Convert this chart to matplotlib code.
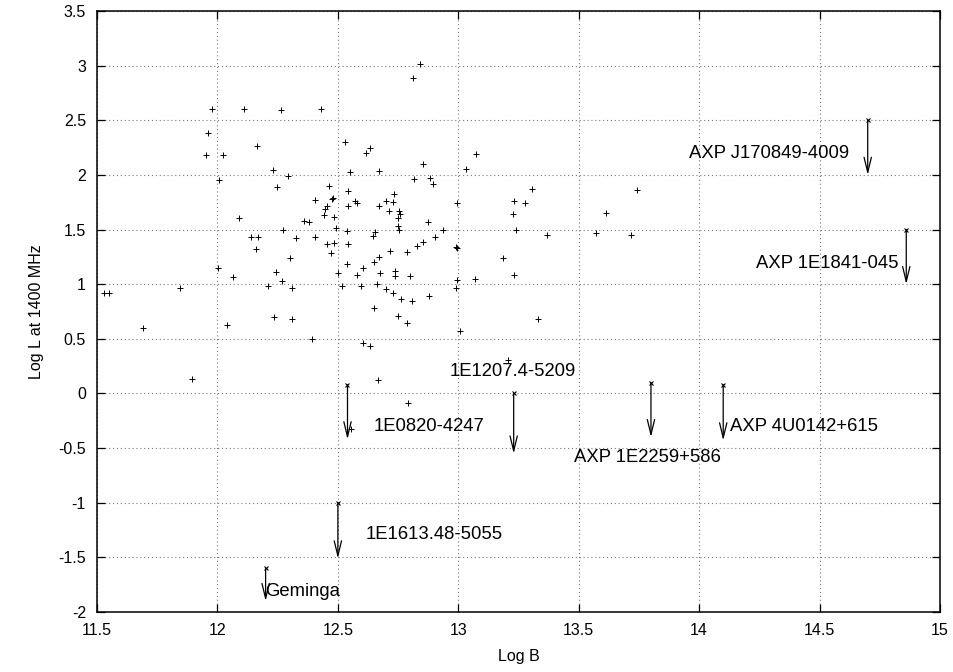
import numpy as np
import matplotlib
matplotlib.use("Agg")
import matplotlib.pyplot as plt

# radio-detected pulsars: log B [G], log L at 1400 MHz
log_b = [
    11.528, 11.551, 11.690, 11.843, 11.894,
    11.979, 11.960, 11.953, 12.021, 12.006, 12.004, 12.039, 12.063, 12.090, 12.110,
    12.138, 12.168, 12.161, 12.163, 12.229, 12.248, 12.295, 12.262, 12.211, 12.236,
    12.244, 12.268, 12.273, 12.300, 12.310, 12.310, 12.325,
    12.361, 12.382, 12.405, 12.405, 12.391, 12.430, 12.464, 12.474, 12.478, 12.456,
    12.446, 12.442, 12.485, 12.493, 12.455, 12.485, 12.472, 12.500, 12.516,
    12.528, 12.550, 12.543, 12.541, 12.537, 12.541, 12.539, 12.572, 12.579, 12.581,
    12.605, 12.594, 12.605, 12.632, 12.616, 12.632, 12.672, 12.672, 12.700, 12.713,
    12.656, 12.647, 12.650, 12.669, 12.676, 12.663, 12.700, 12.650, 12.668, 12.553,
    12.729, 12.734, 12.752, 12.760, 12.751, 12.748, 12.752, 12.715, 12.785, 12.736,
    12.736, 12.800, 12.729, 12.762, 12.808, 12.878, 12.748, 12.786, 12.792,
    12.810, 12.841, 12.853, 12.817, 12.883, 12.897, 12.876, 12.938, 12.905, 12.853,
    12.829,
    12.996, 12.990, 12.996, 12.994, 12.992, 13.008, 13.034, 13.072, 13.068,
    13.187, 13.232, 13.205, 13.231, 13.278, 13.229, 13.238, 13.305, 13.367, 13.329,
    13.572, 13.612, 13.719, 13.741,
]
log_l = [
    0.922, 0.922, 0.598, 0.968, 0.133,
    2.600, 2.384, 2.179, 2.180, 1.951, 1.150, 0.626, 1.062, 1.606, 2.600,
    1.428, 1.428, 1.323, 2.266, 2.045, 1.885, 1.990, 2.590, 0.985, 0.703,
    1.111, 1.033, 1.492, 1.244, 0.967, 0.683, 1.426,
    1.582, 1.566, 1.775, 1.430, 0.494, 2.600, 1.903, 1.780, 1.788, 1.716,
    1.691, 1.637, 1.614, 1.514, 1.368, 1.377, 1.288, 1.106, 0.982,
    2.300, 2.025, 1.850, 1.716, 1.483, 1.368, 1.181, 1.765, 1.746, 1.080,
    1.152, 0.987, 0.465, 0.432, 2.205, 2.250, 2.034, 1.716, 1.761, 1.670,
    1.477, 1.437, 1.207, 1.246, 1.106, 1.003, 0.955, 0.780, 0.123, -0.327,
    1.749, 1.826, 1.670, 1.645, 1.602, 1.535, 1.492, 1.305, 1.293, 1.120,
    1.073, 1.075, 0.920, 0.868, 0.846, 0.893, 0.707, 0.645, -0.089,
    2.890, 3.015, 2.104, 1.960, 1.972, 1.914, 1.566, 1.492, 1.429, 1.388,
    1.347,
    1.746, 1.342, 1.332, 1.040, 0.966, 0.568, 2.050, 2.190, 1.050,
    1.244, 1.088, 0.303, 1.758, 1.746, 1.641, 1.499, 1.871, 1.453, 0.683,
    1.471, 1.648, 1.453, 1.859,
]

# radio-quiet objects (upper limits)
lim_names = ["Geminga", "1E1613.48-5055", "1E0820-4247", "1E1207.4-5209",
             "AXP 1E2259+586", "AXP 4U0142+615", "AXP J170849-4009", "AXP 1E1841-045"]
lim_b = [12.20, 12.50, 12.54, 13.23, 13.80, 14.10, 14.70, 14.86]
lim_l = [-1.60, -1.00, 0.08, 0.00, 0.10, 0.08, 2.50, 1.50]
lim_tip = [-1.90, -1.51, -0.42, -0.55, -0.40, -0.43, 2.00, 1.00]

# where each name is written (left edge, vertical centre)
name_pos = [(12.197, -1.81), (12.615, -1.29), (12.649, -0.30), (12.965, 0.20),
            (13.479, -0.59), (14.127, -0.30), (13.960, 2.20), (14.237, 1.19)]

plt.rcParams['font.family'] = ['Liberation Sans', 'DejaVu Sans']

fig = plt.figure(figsize=(9.54, 6.72), dpi=100)
ax = fig.add_axes([0.1017, 0.0893, 0.8836, 0.8943])

ax.plot(log_b, log_l, '+', color='k', ms=4, mew=0.7)
ax.plot(lim_b, lim_l, 'x', color='k', ms=2.8, mew=0.8)

for x, y0, y1 in zip(lim_b, lim_l, lim_tip):
    ax.annotate('', xy=(x, y1), xytext=(x, y0),
                arrowprops=dict(arrowstyle='->,head_length=0.9,head_width=0.22',
                                color='k', lw=0.9, shrinkA=0, shrinkB=0,
                                mutation_scale=12))

for name, (tx, ty) in zip(lim_names, name_pos):
    ax.text(tx, ty, name, ha='left', va='center', fontsize=13.3)

ax.set_xlim(11.5, 15)
ax.set_ylim(-2, 3.5)
ax.set_xticks(np.arange(11.5, 15.01, 0.5))
ax.set_yticks(np.arange(-2, 3.51, 0.5))
ax.set_xticklabels(['11.5', '12', '12.5', '13', '13.5', '14', '14.5', '15'])
ax.set_yticklabels(['-2', '-1.5', '-1', '-0.5', '0', '0.5', '1', '1.5',
                    '2', '2.5', '3', '3.5'])
ax.grid(True, color='#777777', linestyle=(0, (1, 2.5)), lw=0.8)
ax.tick_params(direction='in', length=6, width=0.9, top=True, right=True,
               labelsize=11.5, pad=8)
for s in ax.spines.values():
    s.set_linewidth(1.1)

ax.set_xlabel('Log B', fontsize=11.5, labelpad=8)
ax.set_ylabel('Log L at 1400 MHz', fontsize=11.5, labelpad=10)

fig.savefig('out.png', dpi=100)
